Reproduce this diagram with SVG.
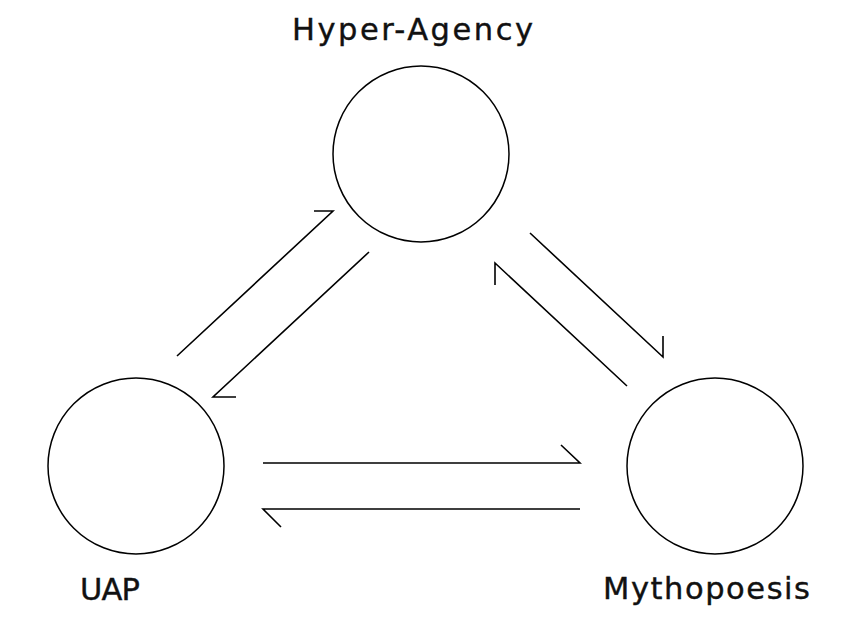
<svg xmlns="http://www.w3.org/2000/svg" width="853" height="618" viewBox="0 0 853 618">
<style>
.node{fill:none;stroke:#000;stroke-width:1.5}
.lbl{font-family:"DejaVu Sans","Noto Sans",sans-serif;font-size:30.5px;fill:#111;stroke:#111;stroke-width:0.4}
.con{fill:none;stroke:#000;stroke-width:1.6;stroke-linejoin:miter}
</style>
<rect width="853" height="618" fill="#fff"/>
<g id="hyper-agency">
<circle class="node" cx="421" cy="154" r="88"/>
<text class="lbl" x="292" y="39.5" textLength="241" lengthAdjust="spacing">Hyper-Agency</text>
</g>
<g id="uap">
<circle class="node" cx="136" cy="466" r="88"/>
<text class="lbl" x="80" y="599.5" textLength="60" lengthAdjust="spacing">UAP</text>
</g>
<g id="mythopoesis">
<circle class="node" cx="715" cy="466" r="88"/>
<text class="lbl" x="603" y="599" textLength="207" lengthAdjust="spacing">Mythopoesis</text>
</g>
<g id="connectors">
<path class="con" d="M177,356 L333,211 L314,211"/>
<path class="con" d="M369,252 L213,397 L236,397"/>
<path class="con" d="M530,233 L663,357 L663,336"/>
<path class="con" d="M627,386 L495,263 L495,285"/>
<path class="con" d="M263,463 L580,463 L561,445"/>
<path class="con" d="M580,509 L263,509 L281,527"/>
</g>
</svg>
